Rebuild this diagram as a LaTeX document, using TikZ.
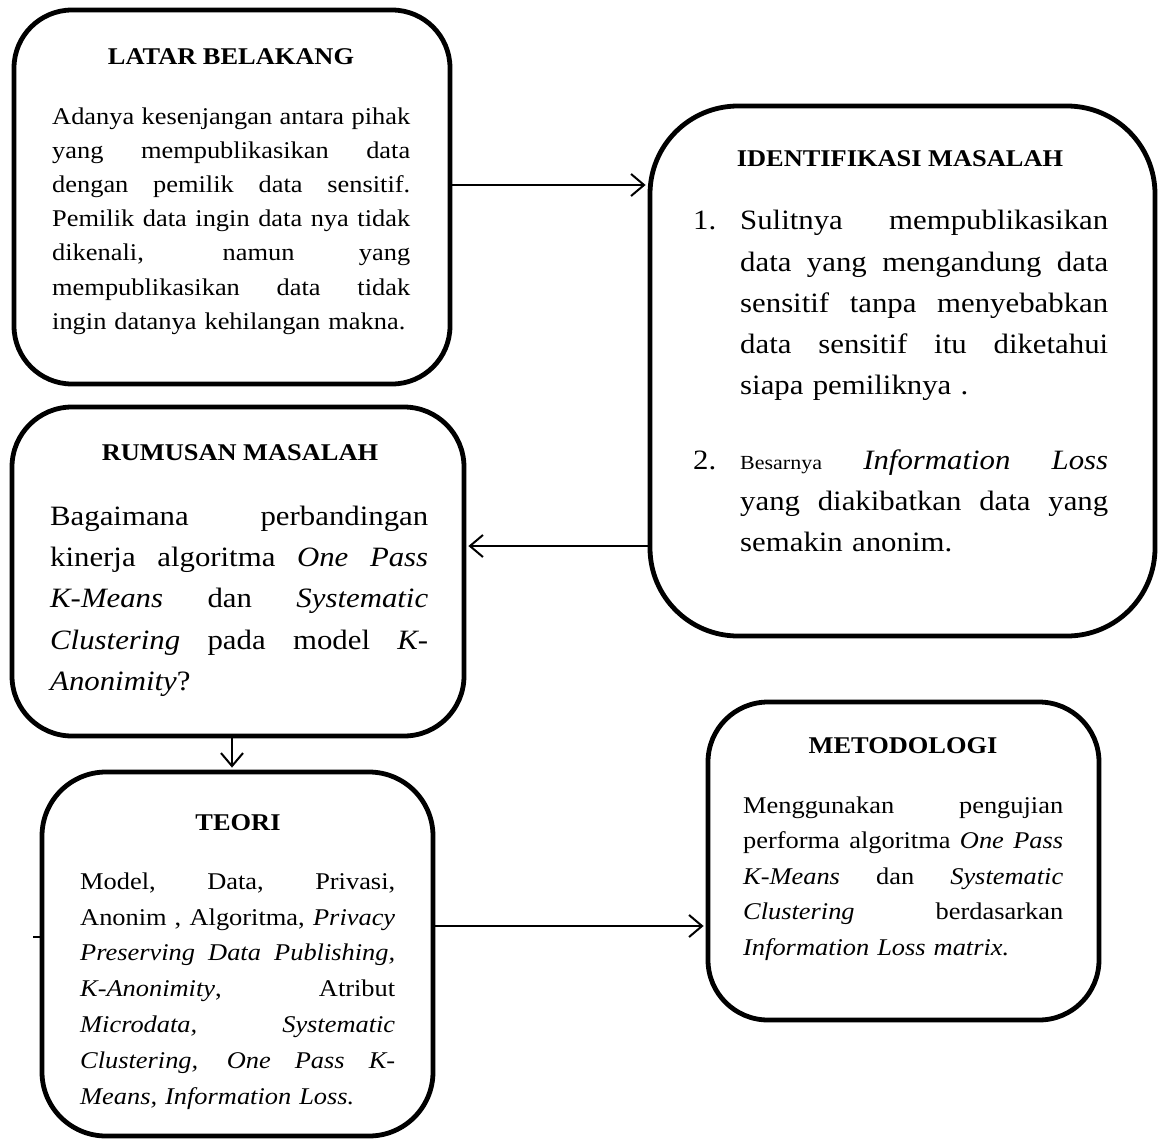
\documentclass[tikz,border=0pt]{standalone}
\usepackage{fontspec}
\setmainfont{Liberation Serif}[FakeStretch=1.1]
\usetikzlibrary{arrows.meta}
\newlength\jw
\newcommand\jl[1]{\hbox to \jw{\spaceskip=.25em plus 1fil\relax\strut #1}}
\newcommand\nl[1]{\hbox{\strut #1}}
\begin{document}
\begin{tikzpicture}[x=1pt,y=-1pt,
  box/.style={draw, line width=4.8pt, rounded corners=#1, inner sep=0pt},
  ttl/.style={font=\fontsize{24}{29}\selectfont\bfseries, inner sep=0pt, anchor=base},
  small/.style={font=\fontsize{24}{#1}\selectfont, inner sep=0pt, anchor=north west},
  big/.style={font=\fontsize{28}{41.3}\selectfont, inner sep=0pt, anchor=north west},
  jw/.code={\global\jw=#1\relax},
  arr/.style={line width=2pt, -{Straight Barb[length=13pt,width=22pt]}, shorten >=2pt}
]
\useasboundingbox (0,0) rectangle (1165,1141);

% boxes
\node[box=58pt, minimum width=436pt, minimum height=374pt] (b1) at (232,197) {};
\node[box=88pt, minimum width=505pt, minimum height=530pt] (b2) at (902.5,371) {};
\node[box=60pt, minimum width=452pt, minimum height=329pt] (b3) at (238,571.5) {};
\node[box=64pt, minimum width=391pt, minimum height=364pt] (b4) at (237.5,954) {};
\node[box=60pt, minimum width=391pt, minimum height=318pt] (b5) at (903.5,861) {};

% titles
\node[ttl] (t1) at (231,64) {LATAR BELAKANG};
\node[ttl] (t2) at (900,166) {IDENTIFIKASI MASALAH};
\node[ttl] (t3) at (240,460) {RUMUSAN MASALAH};
\node[ttl] (t4) at (238,830) {TEORI};
\node[ttl] (t5) at (903,753) {METODOLOGI};

% bodies
\node[small=34.2, jw=358pt, text width=358pt] (x1) at (52,100) {%
\jl{Adanya kesenjangan antara pihak}
\jl{yang mempublikasikan data}
\jl{dengan pemilik data sensitif.}
\jl{Pemilik data ingin data nya tidak}
\jl{dikenali, namun yang}
\jl{mempublikasikan data tidak}
\nl{ingin datanya kehilangan makna.}};

\node[big, jw=368pt, text width=368pt] (x2) at (740,200.6) {%
\jl{\llap{\hbox to 47pt{1.\hss}}Sulitnya mempublikasikan}
\jl{data yang mengandung data}
\jl{sensitif tanpa menyebabkan}
\jl{data sensitif itu diketahui}
\nl{siapa pemiliknya .}
\vskip 33pt
\jl{\llap{\hbox to 47pt{2.\hss}}{\fontsize{20}{41}\selectfont Besarnya} \textit{Information Loss}}
\jl{yang diakibatkan data yang}
\nl{semakin anonim.}};

\node[big, jw=378pt, text width=378pt] (x3) at (50,496) {%
\jl{Bagaimana perbandingan}
\jl{kinerja algoritma \textit{One Pass}}
\jl{\textit{K-Means} dan \textit{Systematic}}
\jl{\textit{Clustering} pada model \textit{K-}}
\nl{\textit{Anonimity}?}};

\node[small=35.8, jw=315pt, text width=315pt] (x4) at (80,864) {%
\jl{Model, Data, Privasi,}
\jl{Anonim , Algoritma, \textit{Privacy}}
\jl{\textit{Preserving Data Publishing,}}
\jl{\textit{K-Anonimity}, Atribut}
\jl{\textit{Microdata, Systematic}}
\jl{\textit{Clustering, One Pass K-}}
\nl{\textit{Means, Information Loss.}}};

\node[small=35.5, jw=320pt, text width=320pt] (x5) at (743,788) {%
\jl{Menggunakan pengujian}
\jl{performa algoritma \textit{One Pass}}
\jl{\textit{K-Means} dan \textit{Systematic}}
\jl{\textit{Clustering} berdasarkan}
\nl{\textit{Information Loss matrix.}}};

% connectors
\coordinate (r1) at (0,185);
\coordinate (r2) at (0,546);
\coordinate (r4) at (0,926);
\coordinate (c3) at (232,0);
\coordinate (tk) at (33,937);
\draw[arr] (r1 -| b1.east) -- (r1 -| b2.west);
\draw[arr] (r2 -| b2.west) -- (r2 -| b3.east);
\draw[arr] (c3 |- b3.south) -- (c3 |- b4.north);
\draw[arr] (r4 -| b4.east) -- (r4 -| b5.west);
\draw[line width=2pt] (tk) -- (tk -| b4.west);
\end{tikzpicture}
\end{document}
